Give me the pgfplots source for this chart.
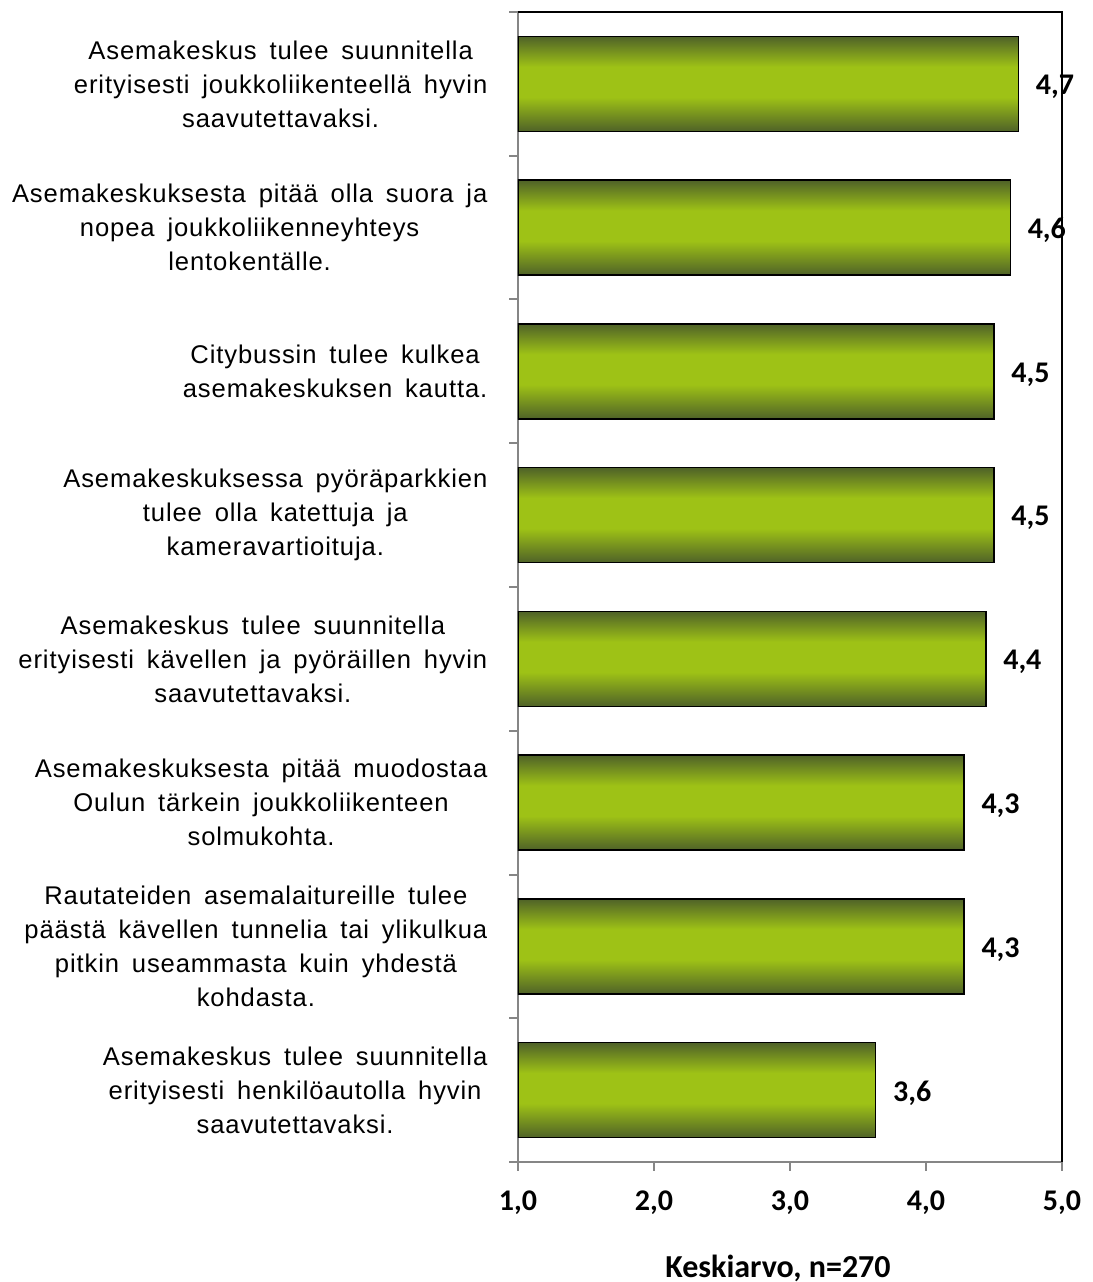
\documentclass[border=0pt]{standalone}
\usepackage{pgfplots}
\pgfplotsset{compat=1.18}
\usepackage{fontspec}
\setmainfont{Liberation Sans}[LetterSpace=3.5, WordSpace=1.6]
\newfontfamily\numfont{Carlito}
\definecolor{dk}{RGB}{79,98,40}
\definecolor{lt}{RGB}{158,194,22}
\definecolor{axgray}{RGB}{134,134,134}
\pgfdeclareverticalshading{barshade}{100bp}{color(0bp)=(dk); color(25bp)=(dk); color(43bp)=(lt); color(59bp)=(lt); color(75bp)=(dk); color(100bp)=(dk)}
\pgfplotsset{mybar/.style={xbar, bar shift=0pt, draw=black, line width=0.8pt, shade, shading=barshade}}
\begin{document}
\begin{tikzpicture}
\path[use as bounding box] (-259pt,-60pt) rectangle (287.5pt,581pt);
\begin{axis}[
  at={(0,0)}, anchor=south west,
  scale only axis, width=272pt, height=575pt,
  xmin=1, xmax=5, ymin=-0.5, ymax=7.5,
  xbar, bar width=47.5pt,
  clip mode=individual,
  axis lines*=left,
  axis line style={draw=axgray, line width=1pt, -},
  tick align=outside, tick pos=left,
  major tick length=4.3pt,
  tick style={draw=axgray, line width=1pt},
  xtick={1,2,3,4,5},
  xticklabel style={font=\numfont\bfseries\fontsize{15}{18}\selectfont, anchor=base, yshift=-20pt},
  ytick={-0.5,0.5,...,7.5},
  yticklabels={
    {Asemakeskus tulee suunnitella\\erityisesti henkilöautolla hyvin\\saavutettavaksi.},
    {Rautateiden asemalaitureille tulee\\päästä kävellen tunnelia tai ylikulkua\\pitkin useammasta kuin yhdestä\\kohdasta.},
    {Asemakeskuksesta pitää muodostaa\\Oulun tärkein joukkoliikenteen\\solmukohta.},
    {Asemakeskus tulee suunnitella\\erityisesti kävellen ja pyöräillen hyvin\\saavutettavaksi.},
    {Asemakeskuksessa pyöräparkkien\\tulee olla katettuja ja\\kameravartioituja.},
    {Citybussin tulee kulkea\\asemakeskuksen kautta.},
    {Asemakeskuksesta pitää olla suora ja\\nopea joukkoliikenneyhteys\\lentokentälle.},
    {Asemakeskus tulee suunnitella\\erityisesti joukkoliikenteellä hyvin\\saavutettavaksi.},
    {}},
  yticklabel style={align=center, font=\fontsize{12.8}{17}\selectfont, anchor=east, yshift=35.94pt, xshift=-7.5pt},
  xlabel={Keskiarvo, n=270},
  xlabel style={font=\numfont\bfseries\fontsize{16}{19}\selectfont, at={(axis description cs:0.478,0)}, anchor=center, yshift=-53pt},
  nodes near coords, point meta=x,
  every node near coord/.append style={font=\numfont\bfseries\fontsize{15}{18}\selectfont, text=black, xshift=5pt, yshift=-1.5pt},
  /pgf/number format/fixed,
  /pgf/number format/fixed zerofill,
  /pgf/number format/precision=1,
  /pgf/number format/use comma,
  /pgf/number format/assume math mode=true,
]
\addplot[mybar] coordinates {(3.63,0)};
\addplot[mybar] coordinates {(4.28,1)};
\addplot[mybar] coordinates {(4.28,2)};
\addplot[mybar] coordinates {(4.44,3)};
\addplot[mybar] coordinates {(4.50,4)};
\addplot[mybar] coordinates {(4.50,5)};
\addplot[mybar] coordinates {(4.62,6)};
\addplot[mybar] coordinates {(4.68,7)};
\draw[black, line width=0.8pt] (rel axis cs:0,1) -- (rel axis cs:1,1) -- (rel axis cs:1,0);
\end{axis}
\end{tikzpicture}
\end{document}
